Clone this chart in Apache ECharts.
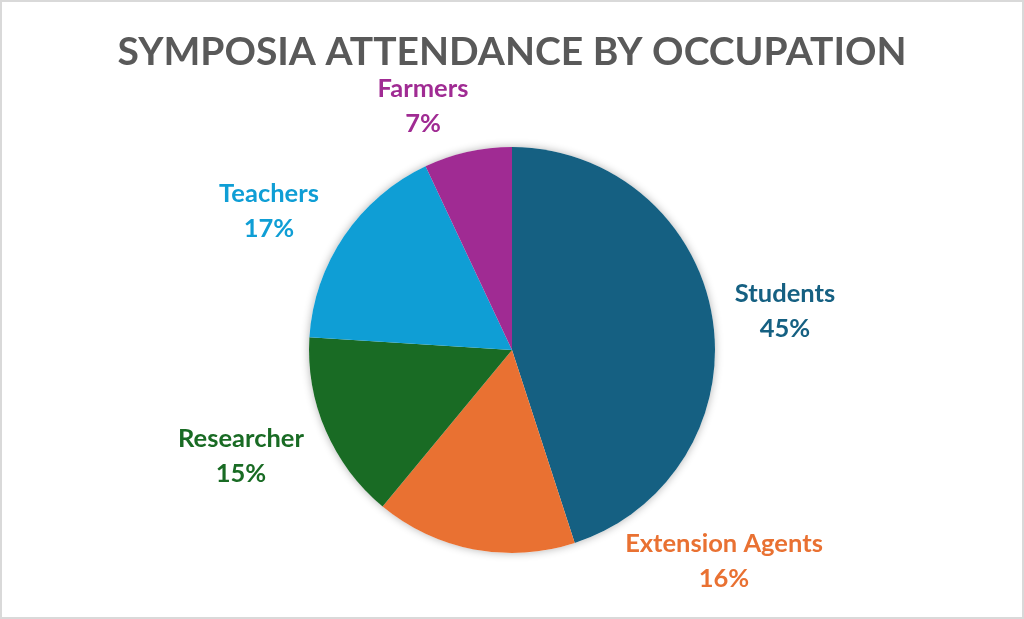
<!DOCTYPE html>
<html>
<head>
<meta charset="utf-8">
<script src="https://cdn.jsdelivr.net/npm/echarts@6/dist/echarts.min.js"></script>
<style>
  body { margin: 0; background: #fff; }
  #chart { position: absolute; left: 0; top: 0; width: 1024px; height: 619px; }
  #frame { position: absolute; left: 0; top: 0; width: 1024px; height: 619px;
           box-sizing: border-box; border: 2px solid #d9d9d9; pointer-events: none; }
</style>
</head>
<body>
<div id="chart"></div>
<div id="frame"></div>
<script>
// occupations, clockwise from 12 o'clock
var occupations = ['Students', 'Extension Agents', 'Researcher', 'Teachers', 'Farmers'];
var shares = [45, 16, 15, 17, 7];
var colors = ['#156082', '#E97132', '#196B24', '#0F9ED5', '#A02B93'];

// where Excel put each data label (label centre, px)
var labelPos = [[785, 311], [724, 561], [241, 456], [269, 211], [423, 106]];

var chart = echarts.init(document.getElementById('chart'));

var pieData = occupations.map(function (name, i) {
  return {
    name: name,
    value: shares[i],
    itemStyle: { color: colors[i] },
    label: { color: colors[i] }
  };
});

var option = {
  animation: false,
  title: {
    text: 'SYMPOSIA ATTENDANCE BY OCCUPATION',
    left: 507,
    top: 28,
    textAlign: 'center',
    textStyle: {
      fontFamily: 'Lato',
      fontWeight: 'bold',
      fontSize: 39,
      color: '#595959'
    }
  },
  series: [
    {
      // soft shadow behind the pie
      type: 'pie',
      silent: true,
      center: [512, 350],
      radius: 203,
      z: 1,
      label: { show: false },
      labelLine: { show: false },
      itemStyle: {
        color: '#ffffff',
        shadowBlur: 8,
        shadowColor: 'rgba(0,0,0,0.3)'
      },
      data: [{ value: 1 }]
    },
    {
      type: 'pie',
      center: [512, 350],
      radius: 203,
      startAngle: 90,
      clockwise: true,
      z: 2,
      data: pieData,
      label: {
        show: true,
        position: 'outside',
        formatter: '{b}\n{d}%',
        fontFamily: 'Lato',
        fontWeight: 'bold',
        fontSize: 25.5,
        lineHeight: 35,
        align: 'center'
      },
      labelLine: { show: false },
      labelLayout: function (params) {
        var p = labelPos[params.dataIndex];
        return { x: p[0], y: p[1], align: 'center', verticalAlign: 'middle' };
      }
    }
  ]
};

chart.setOption(option);
</script>
</body>
</html>
